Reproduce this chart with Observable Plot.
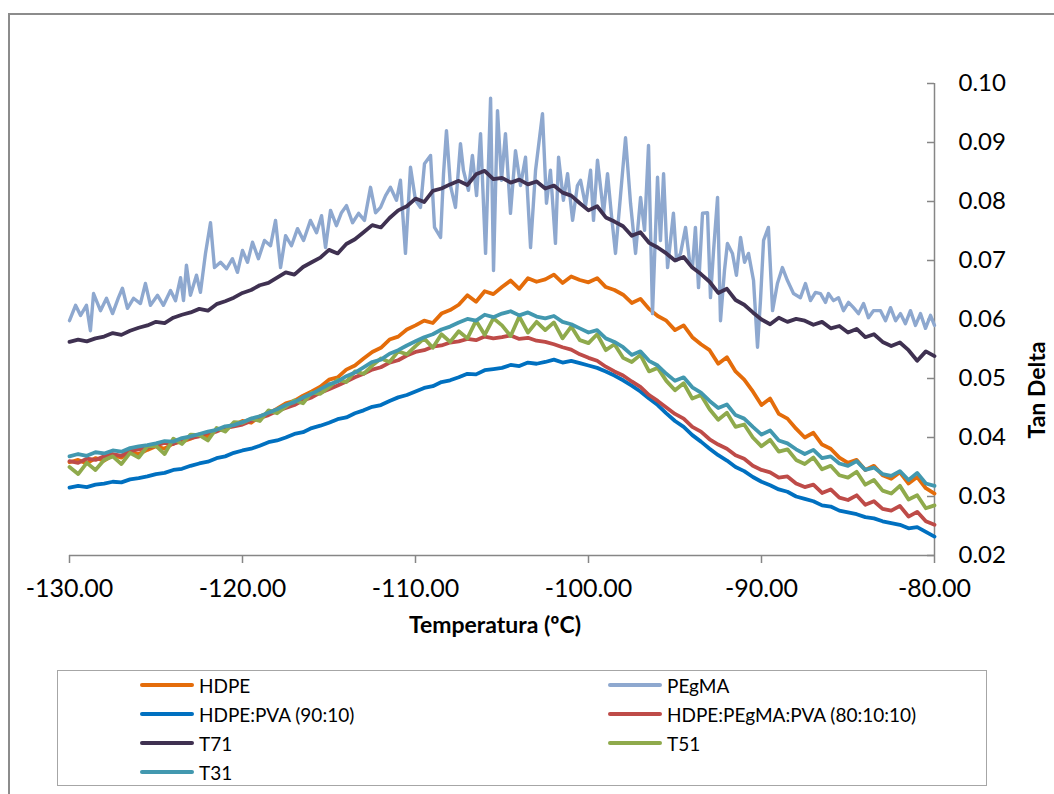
<!DOCTYPE html>
<html>
<head>
<meta charset="utf-8">
<script src="https://cdn.jsdelivr.net/npm/d3@7"></script>
<script src="https://cdn.jsdelivr.net/npm/@observablehq/plot@0.6"></script>
<style>
  html, body { margin: 0; padding: 0; background: #fff; }
  body { width: 1054px; height: 794px; position: relative; overflow: hidden; font-family: Lato, "Open Sans", sans-serif; }
  #frame { position: absolute; left: 8px; top: 13px; width: 1200px; height: 900px; border-left: 2px solid #8c8c8c; border-top: 2px solid #8c8c8c; box-sizing: border-box; }
  #chart { position: absolute; left: 0; top: 0; }
  #legend { position: absolute; left: 57px; top: 670px; width: 930px; height: 116px; border: 1.5px solid #a6a6a6; box-sizing: border-box; }
  .item { position: absolute; height: 24px; display: flex; align-items: center; font-size: 19px; color: #000; white-space: nowrap; }
  .swatch { width: 54px; height: 4px; border-radius: 2px; margin-right: 5px; }
</style>
</head>
<body>
<div id="frame"></div>
<div id="chart"></div>
<div id="legend"></div>
<script>
// ---- data ----
const seriesNames = ["HDPE", "PEgMA", "HDPE:PVA (90:10)", "HDPE:PEgMA:PVA (80:10:10)", "T71", "T51", "T31"];
const seriesColors = ["#E46C0A", "#8EA8CF", "#0070C0", "#BE4B48", "#3F3151", "#8FAA4C", "#4298AF"];
const xTicks = [-130, -120, -110, -100, -90, -80];
const yTicks = [0.02, 0.03, 0.04, 0.05, 0.06, 0.07, 0.08, 0.09, 0.10];

const temps = [-130, -129.5, -129, -128.5, -128, -127.5, -127, -126.5, -126, -125.5,
  -125, -124.5, -124, -123.5, -123, -122.5, -122, -121.5, -121, -120.5,
  -120, -119.5, -119, -118.5, -118, -117.5, -117, -116.5, -116, -115.5,
  -115, -114.5, -114, -113.5, -113, -112.5, -112, -111.5, -111, -110.5,
  -110, -109.5, -109, -108.5, -108, -107.5, -107, -106.5, -106, -105.5,
  -105, -104.5, -104, -103.5, -103, -102.5, -102, -101.5, -101, -100.5,
  -100, -99.5, -99, -98.5, -98, -97.5, -97, -96.5, -96, -95.5,
  -95, -94.5, -94, -93.5, -93, -92.5, -92, -91.5, -91, -90.5,
  -90, -89.5, -89, -88.5, -88, -87.5, -87, -86.5, -86, -85.5,
  -85, -84.5, -84, -83.5, -83, -82.5, -82, -81.5, -81, -80.5, -80];

const hdpe = [0.0358, 0.0362, 0.0356, 0.0365, 0.0361, 0.0370, 0.0366, 0.0374, 0.0372, 0.0379,
  0.0385, 0.0381, 0.0390, 0.0393, 0.0398, 0.0405, 0.0402, 0.0412, 0.0416, 0.0421,
  0.0428, 0.0425, 0.0436, 0.0441, 0.0449, 0.0458, 0.0462, 0.0471, 0.0478, 0.0486,
  0.0498, 0.0502, 0.0515, 0.0522, 0.0534, 0.0545, 0.0552, 0.0566, 0.0571, 0.0583,
  0.0590, 0.0598, 0.0594, 0.0610, 0.0616, 0.0625, 0.0641, 0.0630, 0.0648, 0.0643,
  0.0655, 0.0666, 0.0652, 0.0670, 0.0664, 0.0668, 0.0676, 0.0662, 0.0673, 0.0667,
  0.0663, 0.0670, 0.0655, 0.0650, 0.0642, 0.0628, 0.0635, 0.0618, 0.0606, 0.0598,
  0.0582, 0.0590, 0.0570, 0.0558, 0.0548, 0.0525, 0.0536, 0.0512, 0.0498, 0.0478,
  0.0455, 0.0466, 0.0440, 0.0432, 0.0415, 0.0400, 0.0408, 0.0388, 0.0381, 0.0366,
  0.0357, 0.0362, 0.0345, 0.0352, 0.0336, 0.0330, 0.0341, 0.0322, 0.0333, 0.0314, 0.0305];

const hdpePva = [0.0315, 0.0318, 0.0316, 0.0320, 0.0322, 0.0325, 0.0324, 0.0329, 0.0331, 0.0334,
  0.0338, 0.0340, 0.0345, 0.0347, 0.0352, 0.0356, 0.0359, 0.0365, 0.0368, 0.0374,
  0.0378, 0.0381, 0.0386, 0.0392, 0.0395, 0.0400, 0.0406, 0.0409, 0.0416, 0.0420,
  0.0425, 0.0431, 0.0434, 0.0441, 0.0446, 0.0452, 0.0455, 0.0462, 0.0468, 0.0472,
  0.0478, 0.0484, 0.0487, 0.0494, 0.0497, 0.0502, 0.0508, 0.0507, 0.0514, 0.0516,
  0.0518, 0.0523, 0.0521, 0.0527, 0.0525, 0.0528, 0.0532, 0.0527, 0.0530, 0.0526,
  0.0522, 0.0518, 0.0512, 0.0505, 0.0497, 0.0488, 0.0478, 0.0466, 0.0455, 0.0441,
  0.0428, 0.0418, 0.0404, 0.0393, 0.0381, 0.0370, 0.0361, 0.0350, 0.0343, 0.0333,
  0.0325, 0.0319, 0.0312, 0.0308, 0.0300, 0.0296, 0.0292, 0.0285, 0.0283, 0.0276,
  0.0273, 0.0270, 0.0265, 0.0263, 0.0258, 0.0255, 0.0252, 0.0246, 0.0248, 0.0240, 0.0232];

const hdpePegmaPva = [0.0360, 0.0357, 0.0364, 0.0362, 0.0368, 0.0372, 0.0369, 0.0377, 0.0380, 0.0383,
  0.0386, 0.0391, 0.0389, 0.0396, 0.0399, 0.0402, 0.0408, 0.0410, 0.0416, 0.0419,
  0.0422, 0.0428, 0.0433, 0.0438, 0.0445, 0.0450, 0.0455, 0.0463, 0.0468, 0.0476,
  0.0482, 0.0488, 0.0495, 0.0502, 0.0508, 0.0515, 0.0519, 0.0527, 0.0531, 0.0539,
  0.0545, 0.0548, 0.0554, 0.0556, 0.0561, 0.0563, 0.0567, 0.0565, 0.0571, 0.0568,
  0.0570, 0.0573, 0.0567, 0.0569, 0.0564, 0.0562, 0.0558, 0.0553, 0.0549, 0.0541,
  0.0535, 0.0530, 0.0520, 0.0512, 0.0505, 0.0495, 0.0486, 0.0472, 0.0462, 0.0451,
  0.0440, 0.0432, 0.0418, 0.0410, 0.0397, 0.0388, 0.0381, 0.0370, 0.0364, 0.0352,
  0.0345, 0.0341, 0.0332, 0.0334, 0.0322, 0.0316, 0.0320, 0.0306, 0.0312, 0.0298,
  0.0294, 0.0302, 0.0286, 0.0292, 0.0279, 0.0276, 0.0284, 0.0266, 0.0274, 0.0258, 0.0252];

const t71 = [0.0562, 0.0566, 0.0563, 0.0568, 0.0571, 0.0577, 0.0574, 0.0581, 0.0586, 0.0590,
  0.0596, 0.0594, 0.0603, 0.0608, 0.0612, 0.0618, 0.0615, 0.0626, 0.0631, 0.0637,
  0.0645, 0.0650, 0.0658, 0.0662, 0.0671, 0.0680, 0.0676, 0.0689, 0.0697, 0.0705,
  0.0718, 0.0712, 0.0728, 0.0736, 0.0748, 0.0760, 0.0756, 0.0772, 0.0785, 0.0792,
  0.0805, 0.0799, 0.0818, 0.0822, 0.0829, 0.0835, 0.0828, 0.0846, 0.0852, 0.0838,
  0.0840, 0.0832, 0.0837, 0.0829, 0.0834, 0.0822, 0.0827, 0.0815, 0.0810, 0.0797,
  0.0785, 0.0792, 0.0773, 0.0766, 0.0758, 0.0742, 0.0748, 0.0730, 0.0722, 0.0712,
  0.0700, 0.0706, 0.0688, 0.0677, 0.0664, 0.0645, 0.0652, 0.0633, 0.0625, 0.0612,
  0.0600, 0.0592, 0.0603, 0.0596, 0.0601, 0.0598, 0.0591, 0.0596, 0.0585, 0.0589,
  0.0578, 0.0584, 0.0570, 0.0575, 0.0562, 0.0555, 0.0561, 0.0548, 0.0530, 0.0546, 0.0538];

const t51 = [0.0350, 0.0338, 0.0357, 0.0345, 0.0362, 0.0368, 0.0355, 0.0374, 0.0366, 0.0385,
  0.0386, 0.0372, 0.0398, 0.0389, 0.0405, 0.0404, 0.0395, 0.0416, 0.0410, 0.0426,
  0.0425, 0.0432, 0.0428, 0.0446, 0.0441, 0.0452, 0.0463, 0.0458, 0.0476, 0.0474,
  0.0485, 0.0498, 0.0494, 0.0512, 0.0508, 0.0522, 0.0534, 0.0528, 0.0546, 0.0541,
  0.0555, 0.0568, 0.0552, 0.0575, 0.0562, 0.0580, 0.0568, 0.0598, 0.0574, 0.0602,
  0.0590, 0.0572, 0.0605, 0.0578, 0.0596, 0.0582, 0.0595, 0.0568, 0.0588, 0.0565,
  0.0560, 0.0575, 0.0548, 0.0558, 0.0535, 0.0528, 0.0540, 0.0512, 0.0518, 0.0496,
  0.0480, 0.0492, 0.0466, 0.0472, 0.0448, 0.0430, 0.0442, 0.0418, 0.0422, 0.0400,
  0.0385, 0.0396, 0.0376, 0.0380, 0.0362, 0.0355, 0.0366, 0.0346, 0.0352, 0.0336,
  0.0332, 0.0342, 0.0320, 0.0328, 0.0310, 0.0305, 0.0318, 0.0295, 0.0302, 0.0280, 0.0285];

const t31 = [0.0368, 0.0372, 0.0369, 0.0375, 0.0373, 0.0378, 0.0376, 0.0382, 0.0385, 0.0387,
  0.0390, 0.0394, 0.0393, 0.0399, 0.0402, 0.0406, 0.0410, 0.0413, 0.0419, 0.0421,
  0.0426, 0.0432, 0.0436, 0.0442, 0.0448, 0.0455, 0.0460, 0.0468, 0.0474, 0.0482,
  0.0490, 0.0495, 0.0504, 0.0510, 0.0519, 0.0528, 0.0532, 0.0542, 0.0548, 0.0556,
  0.0563, 0.0570, 0.0575, 0.0583, 0.0588, 0.0595, 0.0601, 0.0598, 0.0608, 0.0604,
  0.0610, 0.0614, 0.0607, 0.0612, 0.0605, 0.0602, 0.0606, 0.0596, 0.0592, 0.0585,
  0.0578, 0.0582, 0.0568, 0.0562, 0.0553, 0.0540, 0.0546, 0.0530, 0.0522, 0.0508,
  0.0496, 0.0502, 0.0485, 0.0476, 0.0462, 0.0450, 0.0456, 0.0438, 0.0432, 0.0418,
  0.0405, 0.0412, 0.0395, 0.0390, 0.0380, 0.0372, 0.0379, 0.0365, 0.0368, 0.0356,
  0.0352, 0.0360, 0.0345, 0.0349, 0.0338, 0.0335, 0.0343, 0.0328, 0.0340, 0.0322, 0.0318];

// PEgMA is very noisy: its own, denser temperature sampling
const pegmaTemps = [-130, -129.65, -129.36, -129.02, -128.79, -128.61, -128.21, -127.86, -127.51, -127.17,
  -126.94, -126.65, -126.3, -125.9, -125.61, -125.32, -124.91, -124.57, -124.16, -123.87,
  -123.58, -123.41, -123.24, -123.01, -122.66, -122.43, -122.14, -121.85, -121.62, -121.27,
  -120.92, -120.58, -120.29, -120.0, -119.71, -119.42, -119.08, -118.73, -118.38, -118.09,
  -117.8, -117.51, -117.17, -116.82, -116.47, -116.07, -115.72, -115.43, -115.2, -114.91,
  -114.57, -114.28, -113.99, -113.64, -113.29, -112.95, -112.6, -112.31, -112.02, -111.73,
  -111.45, -111.1, -110.87, -110.58, -110.29, -110.0, -109.71, -109.48, -109.13, -108.9,
  -108.55, -108.38, -108.21, -107.98, -107.69, -107.4, -107.23, -106.94, -106.71, -106.47,
  -106.24, -105.95, -105.66, -105.49, -105.26, -105.03, -104.8, -104.51, -104.22, -103.93,
  -103.64, -103.35, -103.06, -102.66, -102.43, -102.2, -101.91, -101.73, -101.45, -101.21,
  -100.92, -100.64, -100.46, -100.17, -99.88, -99.71, -99.48, -99.13, -98.9, -98.67,
  -98.44, -98.15, -97.86, -97.57, -97.28, -96.99, -96.76, -96.53, -96.3, -96.01,
  -95.84, -95.66, -95.43, -95.09, -94.91, -94.68, -94.39, -94.16, -93.99, -93.82,
  -93.64, -93.41, -93.12, -92.95, -92.77, -92.54, -92.37, -92.14, -91.97, -91.68,
  -91.45, -91.21, -90.98, -90.75, -90.46, -90.23, -90.06, -89.88, -89.6, -89.36,
  -89.08, -88.79, -88.5, -88.15, -87.75, -87.46, -87.17, -86.88, -86.59, -86.3,
  -86.13, -85.84, -85.55, -85.26, -84.97, -84.68, -84.39, -84.1, -83.82, -83.53,
  -83.12, -82.83, -82.54, -82.25, -81.97, -81.68, -81.39, -81.1, -80.81, -80.52, -80.23, -80.0];

const pegma = [0.0598, 0.0624, 0.0607, 0.0624, 0.0581, 0.0644, 0.0615, 0.0636, 0.0610, 0.0637,
  0.0653, 0.0619, 0.0636, 0.0627, 0.0661, 0.0624, 0.0641, 0.0624, 0.0649, 0.0632,
  0.0671, 0.0632, 0.0692, 0.0641, 0.0675, 0.0646, 0.0712, 0.0764, 0.0688, 0.0697,
  0.0686, 0.0703, 0.0680, 0.0717, 0.0697, 0.0731, 0.0703, 0.0734, 0.0725, 0.0768,
  0.0688, 0.0742, 0.0725, 0.0754, 0.0734, 0.0768, 0.0747, 0.0776, 0.0722, 0.0785,
  0.0759, 0.0781, 0.0793, 0.0764, 0.0780, 0.0768, 0.0824, 0.0781, 0.0790, 0.0810,
  0.0824, 0.0802, 0.0836, 0.0712, 0.0858, 0.0802, 0.0790, 0.0864, 0.0878, 0.0756,
  0.0739, 0.0847, 0.0920, 0.0827, 0.0790, 0.0898, 0.0853, 0.0819, 0.0878, 0.0810,
  0.0915, 0.0712, 0.0975, 0.0683, 0.0954, 0.0836, 0.0915, 0.0780, 0.0886, 0.0827,
  0.0875, 0.0722, 0.0853, 0.0949, 0.0797, 0.0853, 0.0729, 0.0875, 0.0802, 0.0847,
  0.0768, 0.0827, 0.0836, 0.0793, 0.0853, 0.0768, 0.0870, 0.0780, 0.0847, 0.0776,
  0.0712, 0.0810, 0.0908, 0.0797, 0.0712, 0.0807, 0.0751, 0.0895, 0.0610, 0.0841,
  0.0734, 0.0847, 0.0688, 0.0780, 0.0700, 0.0712, 0.0756, 0.0700, 0.0688, 0.0756,
  0.0654, 0.0780, 0.0781, 0.0637, 0.0717, 0.0807, 0.0598, 0.0683, 0.0729, 0.0712,
  0.0675, 0.0739, 0.0697, 0.0712, 0.0666, 0.0553, 0.0632, 0.0734, 0.0756, 0.0615,
  0.0661, 0.0688, 0.0666, 0.0644, 0.0637, 0.0661, 0.0632, 0.0646, 0.0644, 0.0629,
  0.0644, 0.0632, 0.0637, 0.0615, 0.0629, 0.0620, 0.0610, 0.0627, 0.0603, 0.0615,
  0.0615, 0.0598, 0.0620, 0.0598, 0.0610, 0.0593, 0.0615, 0.0590, 0.0610, 0.0585, 0.0607, 0.0590];

// ---- build ----
const allSeries = [
  {name: seriesNames[0], color: seriesColors[0], t: temps, v: hdpe},
  {name: seriesNames[1], color: seriesColors[1], t: pegmaTemps, v: pegma},
  {name: seriesNames[2], color: seriesColors[2], t: temps, v: hdpePva},
  {name: seriesNames[3], color: seriesColors[3], t: temps, v: hdpePegmaPva},
  {name: seriesNames[4], color: seriesColors[4], t: temps, v: t71},
  {name: seriesNames[5], color: seriesColors[5], t: temps, v: t51},
  {name: seriesNames[6], color: seriesColors[6], t: temps, v: t31}
];

const axisGray = "#868686";
const lineMarks = allSeries.map(s => {
  const rows = s.t.map((t, i) => ({t, v: s.v[i]}));
  return Plot.line(rows, {x: "t", y: "v", stroke: s.color, strokeWidth: s.name === "PEgMA" ? 3.4 : 3.8, strokeLinejoin: "round", strokeLinecap: "round"});
});

const chart = Plot.plot({
  width: 1054,
  height: 660,
  marginLeft: 69,
  marginRight: 120,
  marginTop: 83,
  marginBottom: 105,
  style: {fontFamily: "Lato, 'Open Sans', sans-serif", background: "transparent", color: "#000"},
  x: {domain: [-130, -80]},
  y: {domain: [0.02, 0.10]},
  marks: [
    Plot.ruleY([0.02], {stroke: axisGray, strokeWidth: 1.5}),
    Plot.ruleX([-80], {stroke: axisGray, strokeWidth: 1.5}),
    Plot.tickY(yTicks, {y: d => d, insetLeft: 858, stroke: axisGray, strokeWidth: 1.5}),
    Plot.axisX({ticks: xTicks, tickFormat: d => d.toFixed(2), tickSize: 8, tickPadding: 16, fontSize: 25, stroke: axisGray, fill: "#000", strokeWidth: 1.5, label: null}),
    Plot.axisY({anchor: "right", ticks: yTicks, tickFormat: d => d.toFixed(2), tickSize: 0, tickPadding: 24, fontSize: 24, fill: "#000", label: null}),
    ...lineMarks,
    Plot.text(["Temperatura (ºC)"], {text: d => d, frameAnchor: "bottom", dx: -7, dy: 77, fontSize: 23, fontWeight: "bold", fill: "#000"}),
    Plot.text(["Tan Delta"], {text: d => d, frameAnchor: "right", dx: 103, dy: 22, rotate: -90, fontSize: 23, fontWeight: "bold", fill: "#000"})
  ]
});
document.getElementById("chart").appendChild(chart);

// ---- legend ----
const legend = document.getElementById("legend");
const legendLayout = [[0, 0], [1, 0], [0, 1], [1, 1], [0, 2], [1, 2], [0, 3]];
const colX = [139 - 57, 607 - 57];
const rowY = [684 - 670, 713 - 670, 742 - 670, 771 - 670];
seriesNames.forEach((name, i) => {
  const [c, r] = legendLayout[i];
  const item = document.createElement("div");
  item.className = "item";
  item.style.left = colX[c] + "px";
  item.style.top = (rowY[r] - 12) + "px";
  const sw = document.createElement("div");
  sw.className = "swatch";
  sw.style.background = seriesColors[i];
  const label = document.createElement("span");
  label.textContent = name;
  item.appendChild(sw);
  item.appendChild(label);
  legend.appendChild(item);
});
</script>
</body>
</html>
